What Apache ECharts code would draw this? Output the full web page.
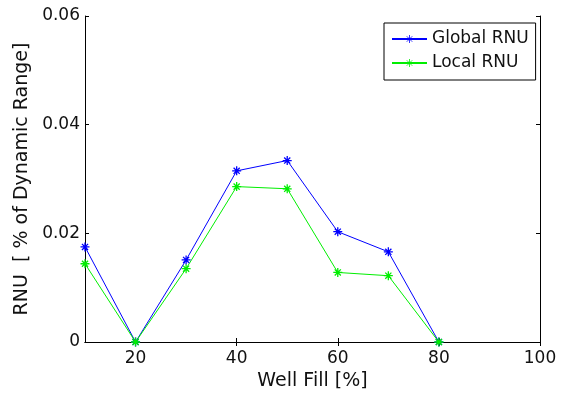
<!DOCTYPE html>
<html>
<head>
<meta charset="utf-8">
<script src="https://cdn.jsdelivr.net/npm/echarts@6/dist/echarts.min.js"></script>
<style>html,body{margin:0;padding:0;background:#fff}#c{width:563px;height:397px}</style>
</head>
<body>
<div id="c"></div>
<script>
var wellFill = [10, 20, 30, 40, 50, 60, 70, 80];
var globalRNU = [0.0175, 0.0000, 0.0151, 0.0315, 0.0334, 0.0203, 0.0166, 0.0000];
var localRNU = [0.0144, 0.0000, 0.0135, 0.0286, 0.0282, 0.0128, 0.0122, 0.0000];
var xTicks = [20, 40, 60, 80, 100];
var yTicks = [0, 0.02, 0.04, 0.06];

var FONT = 'DejaVu Sans';
var star = 'path://M0,5L10,5M5,0L5,10M1.6,1.6L8.4,8.4M8.4,1.6L1.6,8.4';

function pairs(xs, ys) { return xs.map(function (x, i) { return [x, ys[i]]; }); }

function mkSeries(name, color, ys) {
  return {
    name: name, type: 'line', data: pairs(wellFill, ys),
    symbol: star, symbolSize: 9,
    lineStyle: { color: color, width: 1 },
    itemStyle: { color: 'rgba(0,0,0,0)', borderColor: color, borderWidth: 1.3 },
    emphasis: { disabled: true }, animation: false
  };
}

var chart = echarts.init(document.getElementById('c'), null, { renderer: 'canvas' });
chart.setOption({
  backgroundColor: '#fff',
  animation: false,
  textStyle: { fontFamily: FONT },
  grid: { left: 85, right: 23, top: 16, bottom: 55 },
  legend: {
    orient: 'vertical', left: 384, top: 23,
    backgroundColor: '#fff', borderColor: '#000', borderWidth: 1,
    padding: [6, 7, 7, 7], itemGap: 4, itemWidth: 35, itemHeight: 10,
    itemStyle: { borderWidth: 0.8 },
    textStyle: { fontFamily: FONT, fontSize: 17, lineHeight: 20, color: '#111' },
    data: ['Global RNU', 'Local RNU']
  },
  xAxis: [{
    type: 'value', min: 10, max: 100,
    name: 'Well Fill [%]', nameLocation: 'middle', nameGap: 27,
    nameTextStyle: { fontFamily: FONT, fontSize: 19, color: '#111' },
    axisLine: { show: true, lineStyle: { color: '#000', width: 1 } },
    axisTick: { show: true, inside: true, length: 4, customValues: xTicks, lineStyle: { color: '#000' } },
    axisLabel: { customValues: xTicks, margin: 8, fontFamily: FONT, fontSize: 17, color: '#111' },
    splitLine: { show: false }
  }, {
    type: 'value', min: 10, max: 100, position: 'top',
    axisLine: { show: true, lineStyle: { color: '#000', width: 1 } },
    axisTick: { show: true, inside: true, length: 4, customValues: xTicks, lineStyle: { color: '#000' } },
    axisLabel: { show: false }, splitLine: { show: false }
  }],
  yAxis: [{
    type: 'value', min: 0, max: 0.06, interval: 0.02,
    name: 'RNU  [ % of Dynamic Range]', nameLocation: 'middle', nameGap: 50,
    nameTextStyle: { fontFamily: FONT, fontSize: 19, color: '#111' },
    axisLine: { show: true, lineStyle: { color: '#000', width: 1 } },
    axisTick: { show: true, inside: true, length: 4, lineStyle: { color: '#000' } },
    axisLabel: { margin: 5, fontFamily: FONT, fontSize: 17, color: '#111',
      formatter: function (v) { return String(+v.toFixed(2)); } },
    splitLine: { show: false }
  }, {
    type: 'value', min: 0, max: 0.06, interval: 0.02, position: 'right',
    axisLine: { show: true, lineStyle: { color: '#000', width: 1 } },
    axisTick: { show: true, inside: true, length: 4, lineStyle: { color: '#000' } },
    axisLabel: { show: false }, splitLine: { show: false }
  }],
  series: [
    mkSeries('Global RNU', '#0000ff', globalRNU),
    mkSeries('Local RNU', '#00ee00', localRNU)
  ]
});
</script>
</body>
</html>
